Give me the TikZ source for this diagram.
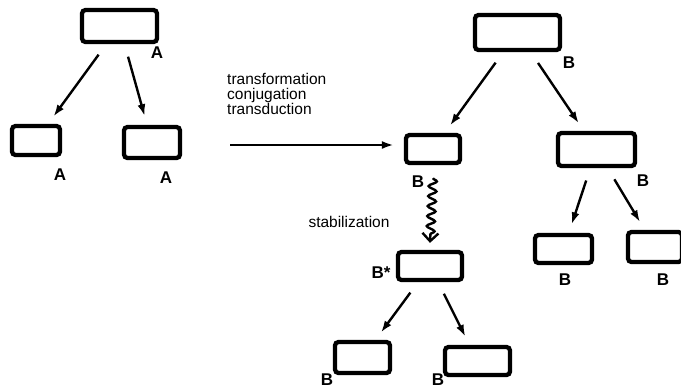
\documentclass[tikz,border=0pt]{standalone}
\usepackage{fontspec}
\setmainfont{Liberation Sans}
\usetikzlibrary{arrows.meta,decorations.pathmorphing}

\begin{document}
\begin{tikzpicture}[x=1pt,y=-1pt,
    cell/.style={draw,line width=4.3pt,rounded corners=3.5pt,inner sep=0pt},
    lab/.style={font=\fontsize{17}{16}\selectfont\bfseries,inner sep=0pt},
    txt/.style={font=\fontsize{15.5}{15}\selectfont,inner sep=0pt,align=left},
    arr/.style={-{Latex[length=12pt,width=8pt]},line width=2.4pt,shorten <=13pt,shorten >=9pt},
    wavy/.style={-{Straight Barb[length=8pt,width=16pt,line width=2.4pt]},line width=2.4pt,
      decorate,decoration={snake,amplitude=4pt,segment length=10pt,post length=6pt}}]
\useasboundingbox (0,0) rectangle (681,389);
% left tree
\node[cell,minimum width=75pt,minimum height=32pt] (aroot) at (119.5,26) {};
\node[cell,minimum width=48pt,minimum height=29pt] (aleft) at (36,140.5) {};
\node[cell,minimum width=56pt,minimum height=31pt] (aright) at (152,142.5) {};
\node[lab] (la1) at (157,53) {A};
\node[lab] (la2) at (60,175) {A};
\node[lab] (la3) at (166,178) {A};
\draw[arr] (aroot) -- (aleft);
\draw[arr] (aroot) -- (aright);
% transfer
\node[txt,anchor=north west] (ttext) at (227,73) {transformation\\conjugation\\transduction};
\coordinate (tstart) at (230,145);
% right tree
\node[cell,minimum width=85pt,minimum height=35pt] (broot) at (517.5,32.5) {};
\node[cell,minimum width=54pt,minimum height=28pt] (bmid) at (433,149) {};
\node[cell,minimum width=77pt,minimum height=33pt] (bbar) at (596.5,149.5) {};
\node[cell,minimum width=64pt,minimum height=28pt] (bstar) at (430,266) {};
\node[cell,minimum width=55pt,minimum height=31pt] (bsl) at (362.5,357.5) {};
\node[cell,minimum width=65pt,minimum height=28pt] (bsr) at (477.5,361) {};
\node[cell,minimum width=57pt,minimum height=28pt] (bbl) at (563.5,249) {};
\node[cell,minimum width=54pt,minimum height=30pt] (bbr) at (655,247) {};
\node[lab] (lb1) at (569,63) {B};
\node[lab] (lb2) at (418,182) {B};
\node[lab] (lb3) at (643,181) {B};
\node[lab] (lb4) at (381,273) {B*};
\node[lab] (lb5) at (327,380) {B};
\node[lab] (lb6) at (438,380) {B};
\node[lab] (lb7) at (565,280) {B};
\node[lab] (lb8) at (663,280) {B};
\node[txt] (tstab) at (349,222) {stabilization};
\draw[arr,shorten <=0pt,shorten >=10pt] (tstart) -- (tstart -| bmid.west);
\draw[arr] (broot) -- (bmid);
\draw[arr] (broot) -- (bbar);
\draw[wavy] ([yshift=-13pt]bmid.south) -- ([yshift=7pt]bstar.north);
\draw[arr] (bstar) -- (bsl);
\draw[arr] (bstar) -- (bsr);
\draw[arr] (bbar) -- (bbl);
\draw[arr] (bbar) -- (bbr);
\end{tikzpicture}
\end{document}
